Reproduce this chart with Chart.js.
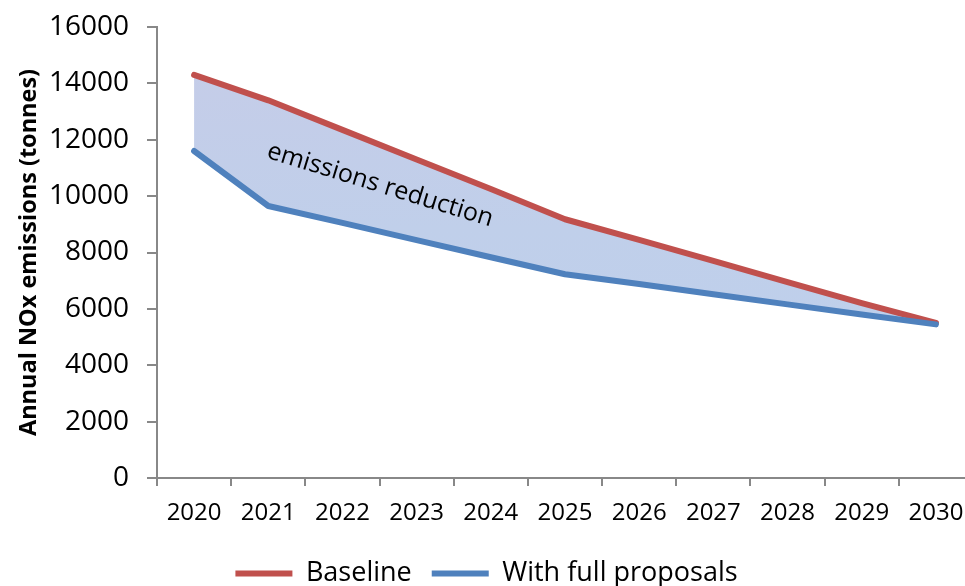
<!DOCTYPE html>
<html><head><meta charset="utf-8">
<script src="https://cdn.jsdelivr.net/npm/chart.js@4/dist/chart.umd.min.js"></script>
<style>html,body{margin:0;padding:0;overflow:hidden;background:#fff}#wrap{width:978px;height:586px}</style>
</head><body><div id="wrap"><canvas id="c" width="978" height="586"></canvas></div>
<script>
const years = ['2020','2021','2022','2023','2024','2025','2026','2027','2028','2029','2030'];
const baseline = [14300, 13400, 12350, 11300, 10250, 9180, 8450, 7700, 6950, 6200, 5500];
const withFullProposals = [11600, 9650, 9050, 8440, 7830, 7230, 6880, 6520, 6160, 5800, 5450];
const yTickValues = [0, 2000, 4000, 6000, 8000, 10000, 12000, 14000, 16000];
const seriesNames = ['Baseline', 'With full proposals'];
const axisTitle = 'Annual NOx emissions (tonnes)';
const annotationText = 'emissions reduction';

const FONT = '"Open Sans", "Liberation Sans", sans-serif';

const annotationPlugin = {
  id: 'annotationText',
  afterDatasetsDraw(chart) {
    const {ctx, scales} = chart;
    const px = scales.x.getPixelForValue(2.48);
    const py = scales.y.getPixelForValue(10145);
    ctx.save();
    ctx.translate(px, py);
    ctx.rotate(17.1 * Math.PI / 180);
    ctx.font = '25px ' + FONT;
    ctx.fillStyle = '#000';
    ctx.textAlign = 'center';
    ctx.textBaseline = 'alphabetic';
    ctx.fillText(annotationText, 0, 0);
    ctx.restore();
  }
};

function fillGradient(context) {
  const chart = context.chart;
  const ca = chart.chartArea;
  if (!ca) return 'rgb(192,207,234)';
  const g = chart.ctx.createLinearGradient(ca.left, ca.top, ca.left, ca.bottom);
  g.addColorStop(0, 'rgb(198,204,232)');
  g.addColorStop(0.45, 'rgb(192,207,234)');
  g.addColorStop(1, 'rgb(188,208,237)');
  return g;
}

new Chart(document.getElementById('c'), {
  type: 'line',
  data: {
    labels: years,
    datasets: [
      {
        label: seriesNames[0],
        data: baseline,
        borderColor: '#C0504D',
        backgroundColor: fillGradient,
        borderWidth: 6,
        borderCapStyle: 'round',
        borderJoinStyle: 'round',
        pointRadius: 0,
        tension: 0,
        fill: '+1',
        order: 1
      },
      {
        label: seriesNames[1],
        data: withFullProposals,
        borderColor: '#4F81BD',
        backgroundColor: '#4F81BD',
        borderWidth: 6,
        borderCapStyle: 'round',
        borderJoinStyle: 'round',
        pointRadius: 0,
        tension: 0,
        fill: false,
        order: 0
      }
    ]
  },
  options: {
    responsive: false,
    animation: false,
    devicePixelRatio: 1,
    layout: { padding: { top: 27, right: 5, left: 0, bottom: -11 } },
    plugins: {
      legend: {
        position: 'bottom',
        align: 'center',
        labels: {
          usePointStyle: true,
          pointStyle: 'line',
          pointStyleWidth: 57,
          color: '#000',
          padding: 20,
          font: { family: FONT, size: 27 },
          sort: (a, b) => a.datasetIndex - b.datasetIndex
        }
      },
      tooltip: { enabled: false }
    },
    scales: {
      x: {
        type: 'category',
        offset: true,
        afterFit: (s) => { s.height = 62; },
        grid: { offset: true, drawOnChartArea: false, drawTicks: true, tickLength: 8, color: '#888', lineWidth: 2 },
        border: { display: true, color: '#888', width: 2 },
        ticks: { color: '#000', font: { family: FONT, size: 24 }, padding: 13, maxRotation: 0, autoSkip: false }
      },
      y: {
        min: 0,
        max: 16000,
        afterBuildTicks: (s) => { s.ticks = yTickValues.map(v => ({ value: v })); },
        afterFit: (s) => { s.width = 157; s.paddingTop = 0; },
        grid: { drawOnChartArea: false, drawTicks: true, tickLength: 10, color: '#888', lineWidth: 2 },
        border: { display: true, color: '#888', width: 2 },
        ticks: { color: '#000', font: { family: FONT, size: 28 }, padding: 18, callback: (v) => String(v) },
        title: { display: true, text: axisTitle, color: '#000', font: { family: FONT, size: 23.5, weight: 'bold' }, padding: { top: 15, bottom: 0 } }
      }
    }
  },
  plugins: [annotationPlugin]
});
</script></body></html>
